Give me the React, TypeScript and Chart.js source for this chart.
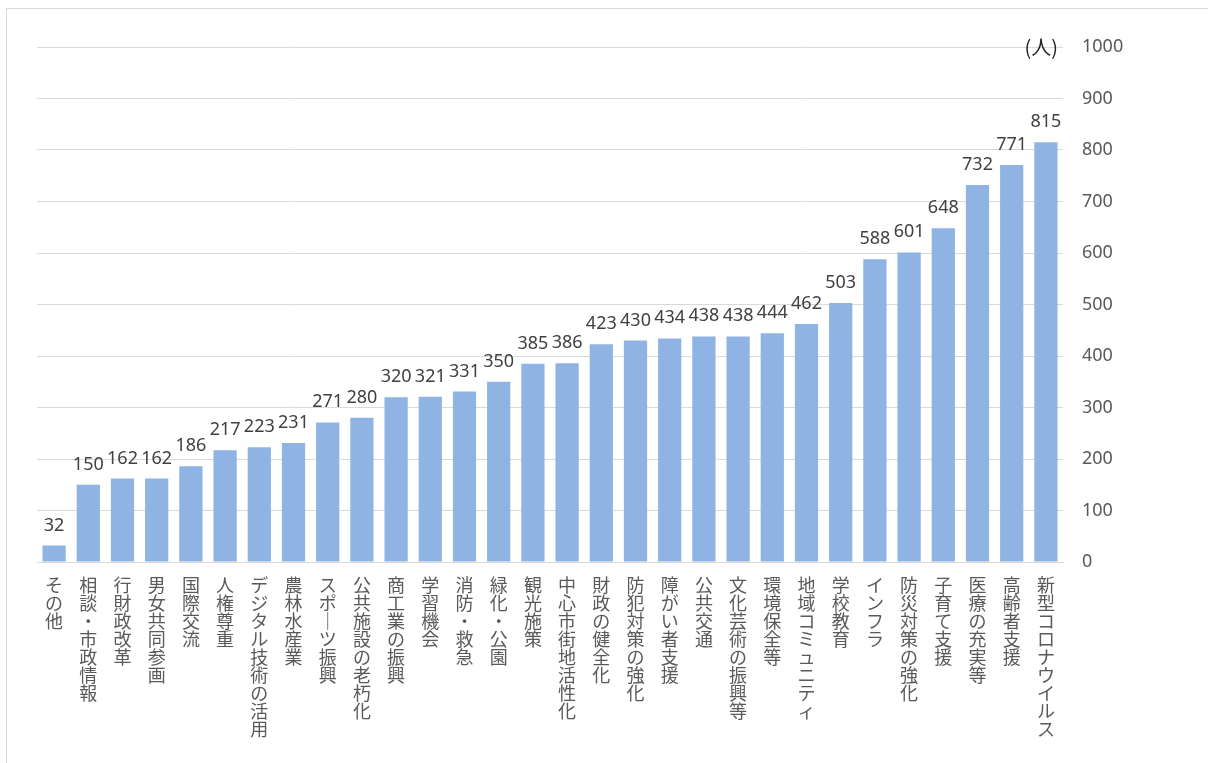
import React, { useEffect, useRef } from "react";
import { Chart, registerables } from "chart.js";

Chart.register(...registerables);

const categories: string[] = [
  "その他", "相談・市政情報", "行財政改革", "男女共同参画", "国際交流", "人権尊重",
  "デジタル技術の活用", "農林水産業", "スポーツ振興", "公共施設の老朽化", "商工業の振興",
  "学習機会", "消防・救急", "緑化・公園", "観光施策", "中心市街地活性化", "財政の健全化",
  "防犯対策の強化", "障がい者支援", "公共交通", "文化芸術の振興等", "環境保全等",
  "地域コミュニティ", "学校教育", "インフラ", "防災対策の強化", "子育て支援",
  "医療の充実等", "高齢者支援", "新型コロナウイルス",
];

const counts: number[] = [
  32, 150, 162, 162, 186, 217, 223, 231, 271, 280, 320, 321, 331, 350, 385,
  386, 423, 430, 434, 438, 438, 444, 462, 503, 588, 601, 648, 732, 771, 815,
];

const unitLabel = "(人)";
const yMin = 0;
const yMax = 1000;
const yStep = 100;

const JP_FONT = "'Noto Sans CJK JP', 'Noto Sans', sans-serif";
const NUM_FONT = "'Noto Sans', 'Noto Sans CJK JP', sans-serif";

const toVertical = (s: string): string[] =>
  Array.from(s).map((c) => (c === "ー" ? "｜" : c));

const dataLabelPlugin = {
  id: "dataLabels",
  afterDatasetsDraw(chart: any) {
    const ctx = chart.ctx;
    const meta = chart.getDatasetMeta(0);
    ctx.save();
    ctx.font = `18px ${NUM_FONT}`;
    ctx.fillStyle = "#404040";
    ctx.textAlign = "center";
    ctx.textBaseline = "alphabetic";
    meta.data.forEach((bar: any, i: number) => {
      ctx.fillText(String(counts[i]), bar.x, bar.y - 15);
    });
    // unit label
    const y = chart.scales.y.getPixelForValue(yMax);
    ctx.fillStyle = "#262626";
    ctx.font = `20px ${JP_FONT}`;
    ctx.textAlign = "right";
    ctx.textBaseline = "middle";
    ctx.fillText(unitLabel, chart.chartArea.right - 5, y);
    ctx.restore();
  },
};

export default function App() {
  const ref = useRef<HTMLCanvasElement | null>(null);

  useEffect(() => {
    if (!ref.current) return;
    const chart = new Chart(ref.current, {
      type: "bar",
      data: {
        labels: categories,
        datasets: [
          {
            data: counts,
            backgroundColor: "#8FB4E3",
            borderWidth: 0,
            barPercentage: 0.68,
            categoryPercentage: 1,
          },
        ],
      },
      options: {
        animation: false,
        responsive: false,
        maintainAspectRatio: false,
        layout: { padding: { left: 37, top: 47, right: 0, bottom: 0 } },
        plugins: {
          legend: { display: false },
          tooltip: { enabled: false },
          title: { display: false },
        },
        scales: {
          x: {
            grid: { display: false, drawTicks: false },
            border: { display: true, color: "#d9d9d9", width: 1 },
            afterFit: (scale: any) => {
              scale.height = 201;
            },
            ticks: {
              autoSkip: false,
              maxRotation: 0,
              minRotation: 0,
              padding: 14,
              color: "#595959",
              font: { family: JP_FONT, size: 18, lineHeight: 1.0 },
              callback: (_v: any, i: number) => toVertical(categories[i]),
            },
          },
          y: {
            position: "right",
            min: yMin,
            max: yMax,
            grid: { color: "#d9d9d9", drawTicks: false, lineWidth: 1 },
            border: { display: false },
            afterFit: (scale: any) => {
              scale.width = 145;
            },
            ticks: {
              stepSize: yStep,
              padding: 19,
              color: "#595959",
              font: { family: NUM_FONT, size: 18 },
              callback: (v: any) => String(v),
            },
          },
        },
      },
      plugins: [dataLabelPlugin],
    });
    return () => chart.destroy();
  }, []);

  return (
    <div
      style={{
        position: "fixed",
        left: 0,
        top: 0,
        width: 1208,
        height: 763,
        overflow: "hidden",
        background: "#ffffff",
      }}
    >
      <div
        style={{
          position: "absolute",
          left: 6,
          top: 8,
          width: 1400,
          height: 1000,
          border: "1px solid #d9d9d9",
        }}
      />
      <canvas
        ref={ref}
        width={1208}
        height={763}
        style={{ position: "absolute", left: 0, top: 0 }}
      />
    </div>
  );
}
